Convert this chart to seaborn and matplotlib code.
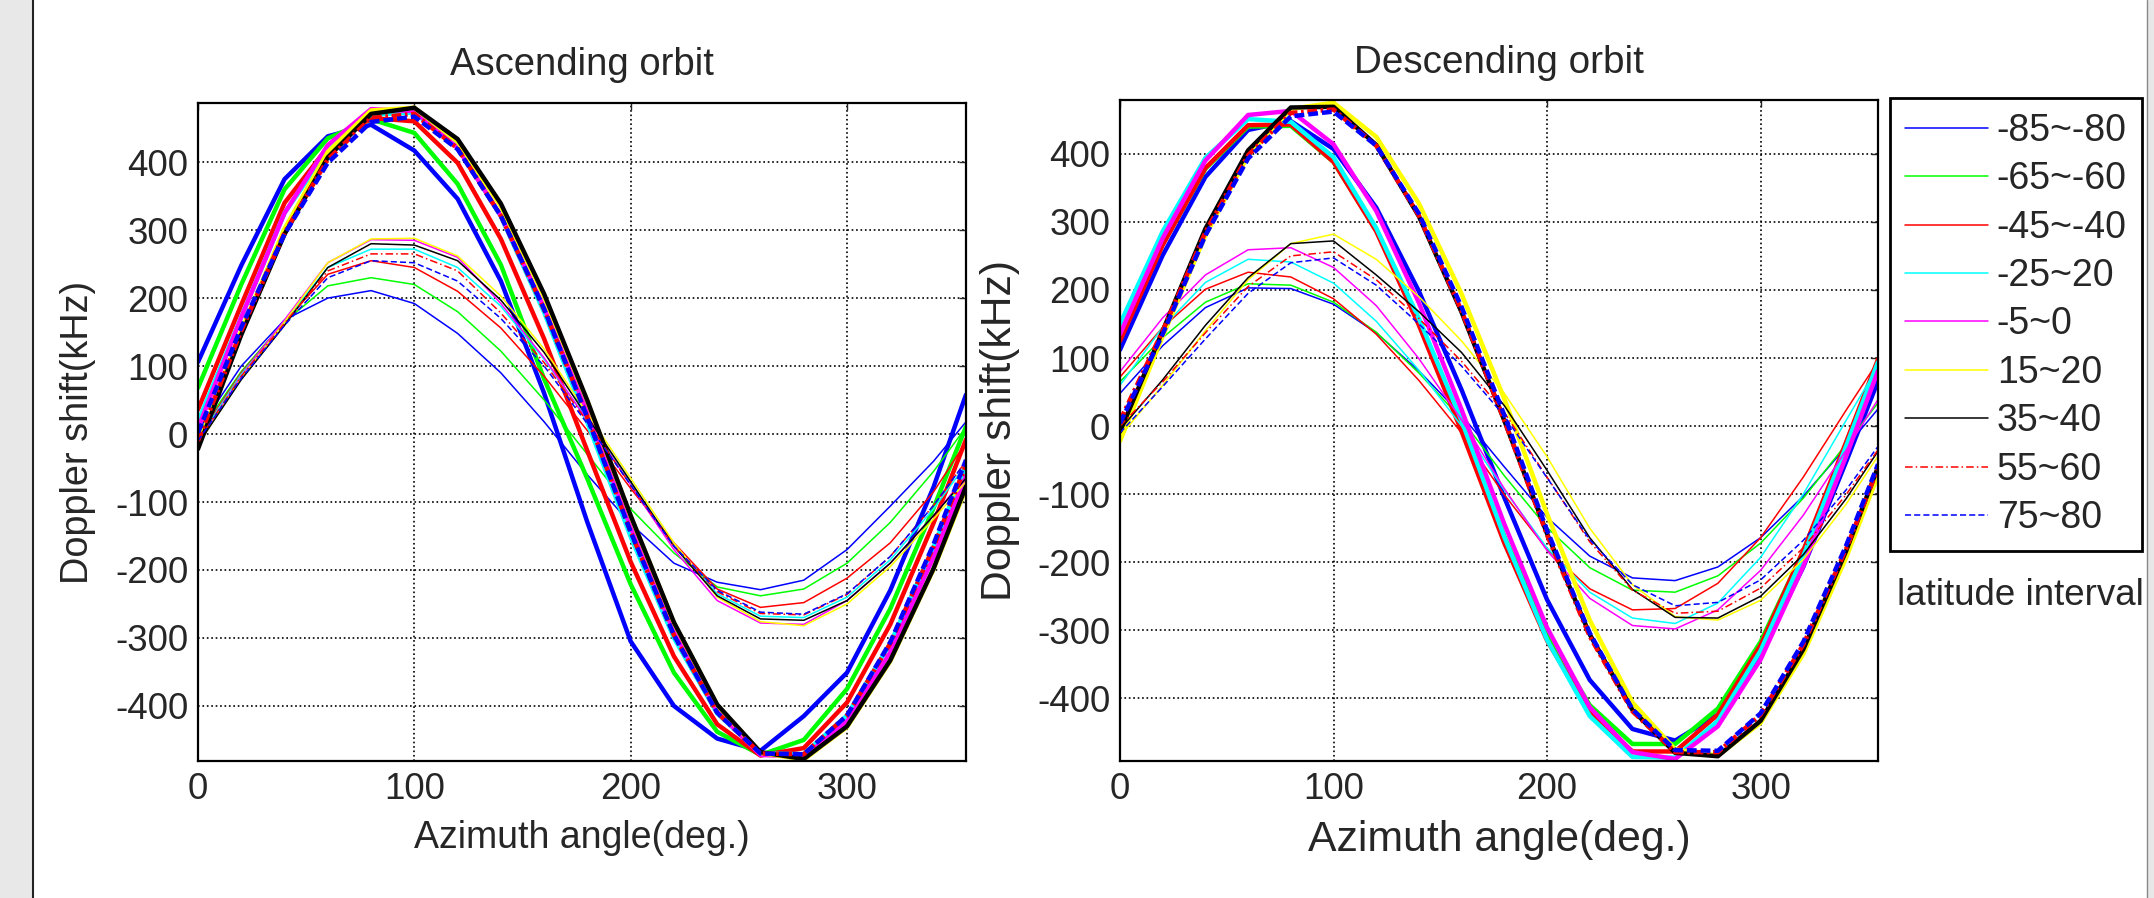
import matplotlib
matplotlib.use("Agg")
import matplotlib.pyplot as plt
from matplotlib.lines import Line2D
from matplotlib.patches import Rectangle
import seaborn as sns

sns.set_style("white")
plt.rcParams['font.family'] = ['Liberation Sans', 'DejaVu Sans']
plt.rcParams['axes.unicode_minus'] = False

# azimuth samples (deg.)
az = [0, 20, 40, 60, 80, 100, 120, 140, 160, 180, 200, 220, 240, 260, 280, 300, 320, 340, 355]

lat_labels = ['-85~-80', '-65~-60', '-45~-40', '-25~20', '-5~0', '15~20', '35~40', '55~60', '75~80']
colors = ['#0000ff', '#00ff00', '#ff0000', '#00ffff', '#ff00ff', '#ffff00', '#000000', '#ff0000', '#0000ff']

# ascending orbit, large amplitude curves (kHz)
asc_thick = {
    '-85~-80': [106, 248, 375, 438, 455, 417, 346, 225, 60, -130, -305, -400, -448, -466, -415, -351, -230, -78, 58],
    '-65~-60': [68, 220, 360, 435, 463, 443, 368, 249, 81, -66, -221, -351, -438, -472, -450, -375, -257, -109, 11],
    '-45~-40': [36, 190, 340, 422, 465, 460, 399, 287, 140, -25, -188, -327, -427, -473, -462, -395, -280, -131, -8],
    '-25~20': [18, 172, 325, 418, 470, 473, 422, 320, 179, 17, -151, -300, -411, -470, -471, -414, -308, -166, -45],
    '-5~0': [8, 172, 325, 425, 478, 475, 421, 321, 186, 32, -137, -291, -408, -472, -475, -423, -321, -181, -62],
    '15~20': [-18, 152, 302, 415, 476, 480, 430, 335, 202, 48, -121, -278, -399, -469, -479, -431, -334, -199, -80],
    '35~40': [-22, 146, 294, 407, 471, 480, 434, 339, 206, 49, -120, -277, -398, -468, -478, -430, -333, -198, -77],
    '55~60': [-10, 152, 296, 404, 465, 471, 420, 321, 183, 25, -144, -296, -410, -470, -471, -414, -308, -166, -45],
    '75~80': [2, 157, 294, 399, 459, 467, 419, 321, 184, 24, -144, -296, -410, -470, -471, -414, -306, -162, -38],
}

# ascending orbit, small amplitude curves (kHz)
asc_thin = {
    '-85~-80': [5, 100, 168, 200, 211, 192, 148, 90, 18, -60, -132, -190, -218, -229, -215, -170, -106, -40, 18],
    '-65~-60': [0, 92, 165, 218, 230, 220, 180, 122, 50, -30, -110, -175, -225, -238, -228, -190, -130, -55, 10],
    '-45~-40': [-5, 90, 165, 235, 255, 245, 210, 156, 85, 5, -80, -160, -228, -255, -248, -212, -160, -85, -12],
    '-25~20': [-8, 88, 165, 245, 272, 272, 245, 188, 110, 20, -72, -165, -235, -268, -270, -240, -185, -110, -45],
    '-5~0': [-12, 85, 168, 252, 286, 285, 260, 192, 112, 20, -75, -170, -245, -278, -280, -245, -190, -120, -62],
    '15~20': [-15, 82, 165, 252, 287, 288, 262, 203, 125, 30, -65, -160, -240, -276, -282, -250, -195, -125, -70],
    '35~40': [-15, 80, 160, 245, 280, 278, 255, 197, 120, 25, -70, -165, -238, -272, -274, -245, -190, -120, -65],
    '55~60': [-10, 85, 163, 240, 265, 265, 240, 178, 105, 18, -75, -165, -232, -264, -266, -236, -180, -105, -40],
    '75~80': [-10, 82, 160, 230, 255, 252, 225, 170, 100, 15, -75, -165, -230, -262, -265, -235, -180, -105, -40],
}

# descending orbit, large amplitude curves (kHz)
desc_thick = {
    '-85~-80': [112, 251, 366, 435, 448, 407, 321, 198, 53, -105, -255, -373, -445, -462, -424, -335, -207, -53, 66],
    '-65~-60': [128, 267, 378, 440, 441, 388, 288, 153, 0, -162, -305, -410, -467, -467, -415, -317, -184, -30, 89],
    '-45~-40': [125, 266, 379, 442, 443, 388, 286, 148, -8, -172, -315, -421, -478, -478, -424, -322, -183, -24, 98],
    '-25~20': [150, 286, 394, 451, 447, 395, 291, 158, 8, -163, -314, -426, -486, -487, -433, -330, -191, -30, 94],
    '-5~0': [135, 276, 390, 457, 463, 414, 316, 181, 24, -144, -296, -413, -479, -489, -441, -343, -206, -45, 81],
    '15~20': [-22, 132, 280, 398, 466, 475, 425, 327, 194, 40, -129, -285, -406, -475, -484, -436, -335, -194, -72],
    '35~40': [-8, 140, 290, 405, 468, 469, 413, 308, 167, 8, -158, -306, -417, -480, -485, -433, -328, -184, -60],
    '55~60': [8, 140, 285, 398, 460, 465, 412, 309, 169, 8, -160, -309, -419, -479, -479, -424, -321, -181, -62],
    '75~80': [4, 135, 280, 393, 455, 462, 412, 312, 175, 16, -153, -304, -416, -476, -477, -422, -317, -176, -56],
}

# descending orbit, small amplitude curves (kHz)
desc_thin = {
    '-85~-80': [48, 118, 174, 203, 202, 179, 137, 81, 16, -60, -134, -191, -223, -227, -207, -164, -103, -31, 25],
    '-65~-60': [65, 130, 182, 209, 207, 182, 138, 78, 10, -73, -149, -208, -241, -244, -220, -172, -106, -27, 34],
    '-45~-40': [72, 145, 201, 226, 219, 187, 135, 67, -10, -101, -181, -239, -270, -268, -231, -164, -75, 23, 95],
    '-25~20': [60, 145, 211, 245, 241, 210, 154, 82, 0, -94, -179, -244, -282, -290, -260, -193, -100, 8, 88],
    '-5~0': [80, 159, 222, 259, 262, 233, 177, 99, 9, -92, -183, -253, -293, -298, -270, -212, -131, -36, 39],
    '15~20': [-15, 60, 140, 215, 268, 282, 245, 190, 125, 48, -45, -150, -233, -280, -285, -256, -196, -115, -44],
    '35~40': [-5, 68, 148, 218, 268, 272, 222, 168, 108, 30, -65, -164, -240, -281, -282, -250, -189, -107, -37],
    '55~60': [0, 65, 137, 205, 250, 256, 215, 158, 95, 20, -75, -170, -241, -275, -272, -238, -179, -101, -35],
    '75~80': [-10, 58, 128, 195, 240, 247, 207, 150, 88, 15, -76, -167, -233, -264, -259, -226, -168, -94, -30],
}

THICK, THIN = 3.2, 1.1
thick_ls = ['-'] * 7 + [(0, (2.2, 0.8, 0.6, 0.8)), (0, (2.2, 0.9))]
thin_ls = ['-'] * 7 + [(0, (5, 2, 1, 2)), (0, (4, 2))]


def draw_panel(ax, thick, thin, ylim):
    for i, lab in enumerate(lat_labels):
        sns.lineplot(x=az, y=thick[lab], ax=ax, color=colors[i], linewidth=THICK,
                     linestyle=thick_ls[i], errorbar=None, legend=False)
        sns.lineplot(x=az, y=thin[lab], ax=ax, color=colors[i], linewidth=THIN,
                     linestyle=thin_ls[i], errorbar=None, legend=False)
    ax.set_xlim(0, 355)
    ax.set_ylim(*ylim)
    ax.set_xticks([0, 100, 200, 300])
    ax.set_yticks(list(range(-400, 401, 100)))
    ax.set_axisbelow(True)
    ax.grid(True, color='black', linestyle=':', linewidth=1.2)
    ax.tick_params(direction='in', length=5, width=1, top=True, right=True, labelsize=26.5)
    ax.tick_params(axis='x', pad=8)
    ax.tick_params(axis='y', pad=7)
    for s in ax.spines.values():
        s.set_visible(True)
        s.set_linewidth(1.6)
        s.set_color('black')


fig = plt.figure(figsize=(21.54, 8.98), dpi=100)
W, H = 2154, 898

ax1 = fig.add_axes([198 / W, 1 - 761 / H, 768 / W, 658 / H])
ax2 = fig.add_axes([1120 / W, 1 - 761 / H, 758 / W, 661 / H])

draw_panel(ax1, asc_thick, asc_thin, (-481, 487))
draw_panel(ax2, desc_thick, desc_thin, (-492, 479))

ax1.set_title('Ascending orbit', fontsize=27.5, y=(761 - 75) / 658, pad=0)
ax2.set_title('Descending orbit', fontsize=27.8, y=(761 - 73) / 661, pad=0)

ax1.set_xlabel('Azimuth angle(deg.)', fontsize=27)
ax1.xaxis.set_label_coords(0.5, (761 - 820) / 658)
ax2.set_xlabel('Azimuth angle(deg.)', fontsize=30.8)
ax2.xaxis.set_label_coords(0.5, (761 - 820) / 661)

ax1.set_ylabel('Doppler shift(kHz)', fontsize=27.3)
ax1.yaxis.set_label_coords((96 - 198) / 768, 0.5)
ax2.set_ylabel('Doppler shift(kHz)', fontsize=30.7)
ax2.yaxis.set_label_coords((1020 - 1120) / 758, 0.5)

handles = [Line2D([], [], color=colors[i], lw=THIN, linestyle=thin_ls[i]) for i in range(9)]
leg = fig.legend(handles, lat_labels, loc='upper left', bbox_to_anchor=(1890 / W, 1 - 98 / H),
                 fontsize=27, frameon=True, fancybox=False, edgecolor='black', framealpha=1,
                 borderpad=0.4, handlelength=2.2, handletextpad=0.25, labelspacing=0.33,
                 borderaxespad=0)
leg.get_frame().set_linewidth(2)

fig.text(2020 / W, 1 - 605 / H, 'latitude interval', ha='center', va='baseline', fontsize=26.5)

# window borders
fig.patches.append(Rectangle((0, 0), 32 / W, 1, transform=fig.transFigure,
                             facecolor='#e8e8e8', edgecolor='none', zorder=-1))
fig.add_artist(Line2D([33 / W, 33 / W], [0, 1], transform=fig.transFigure, color='#222222', lw=1.5))
fig.patches.append(Rectangle((2148 / W, 0), 6 / W, 1, transform=fig.transFigure,
                             facecolor='#e8e8e8', edgecolor='none', zorder=-1))
fig.add_artist(Line2D([2147 / W, 2147 / W], [0, 1], transform=fig.transFigure, color='#888888', lw=1))

fig.savefig('out.png', dpi=100)
